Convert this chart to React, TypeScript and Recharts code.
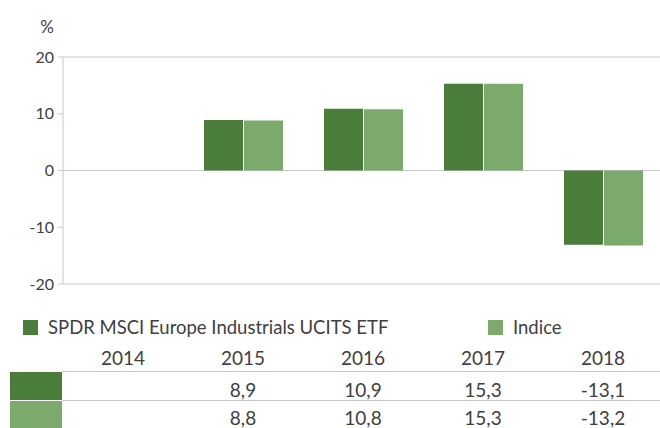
import { Bar, BarChart, CartesianGrid, Customized, Legend, XAxis, YAxis } from "recharts"

const YEARS = ["2014", "2015", "2016", "2017", "2018"]
const FUND = [null, 8.9, 10.9, 15.3, -13.1]
const INDEX = [null, 8.8, 10.8, 15.3, -13.2]
const Y_TICKS = [-20, -10, 0, 10, 20]

const FUND_NAME = "SPDR MSCI Europe Industrials UCITS ETF"
const INDEX_NAME = "Indice"

const DARK = "#4a7c3a"
const LIGHT = "#7baa6c"
const TEXT = "#404040"
const GRID = "#c8c8c8"
const FONT = "Lato, 'Open Sans', sans-serif"

const data = YEARS.map((year, i) => ({ year, fund: FUND[i], index: INDEX[i] }))

const fmt = (v: number | null) => (v == null ? "" : v.toFixed(1).replace(".", ","))

function TableTick(props: any) {
  const { x, payload, index } = props
  const common = { x, textAnchor: "middle" as const, fill: TEXT, fontSize: 19, fontFamily: FONT }
  return (
    <g>
      <text {...common} y={365}>{payload.value}</text>
      <text {...common} y={397}>{fmt(FUND[index])}</text>
      <text {...common} y={425}>{fmt(INDEX[index])}</text>
    </g>
  )
}

function TableFrame() {
  return (
    <g>
      <line x1={62} x2={660} y1={371.5} y2={371.5} stroke={GRID} />
      <line x1={62} x2={660} y1={400.5} y2={400.5} stroke={GRID} />
      <rect x={10} y={372} width={52} height={28} fill={DARK} />
      <rect x={10} y={401} width={52} height={27} fill={LIGHT} />
      <text x={54} y={33} textAnchor="end" fill={TEXT} fontSize={17} fontFamily={FONT}>%</text>
    </g>
  )
}

const LEGEND_LEFT: Record<string, number> = { [FUND_NAME]: 23, [INDEX_NAME]: 488 }

function LegendContent(props: any) {
  const items = props.payload ?? []
  return (
    <div style={{ position: "relative", height: 20, width: 660 }}>
      {items.map((it: any) => (
        <div
          key={it.value}
          style={{
            position: "absolute",
            left: LEGEND_LEFT[it.value] ?? 0,
            top: 0,
            display: "flex",
            alignItems: "center",
            whiteSpace: "nowrap",
          }}
        >
          <span style={{ display: "inline-block", width: 15, height: 15, background: it.color }} />
          <span style={{ marginLeft: 10, fontSize: 18.5, fontFamily: FONT, color: TEXT, lineHeight: "20px" }}>
            {it.value}
          </span>
        </div>
      ))}
    </div>
  )
}

export default function App() {
  return (
    <div style={{ position: "absolute", left: 0, top: 0, background: "#fff" }}>
      <BarChart
        width={660}
        height={428}
        data={data}
        margin={{ top: 57, right: -3, left: 0, bottom: 0 }}
        barCategoryGap={21}
        barGap={1}
      >
        <CartesianGrid vertical={false} horizontalValues={[-20, 0, 20]} stroke={GRID} />
        <YAxis
          width={63}
          domain={[-20, 20]}
          ticks={Y_TICKS}
          interval={0}
          axisLine={{ stroke: GRID }}
          tickLine={{ stroke: GRID }}
          tickSize={5}
          tickMargin={4}
          tick={{ fill: TEXT, fontSize: 16, fontFamily: FONT }}
        />
        <XAxis
          dataKey="year"
          height={144}
          axisLine={false}
          tickLine={false}
          interval={0}
          tick={<TableTick />}
        />
        <Legend
          verticalAlign="middle"
          layout="horizontal"
          content={<LegendContent />}
          wrapperStyle={{ position: "absolute", top: 317, left: 0, width: 660 }}
        />
        <Bar dataKey="fund" name={FUND_NAME} fill={DARK} isAnimationActive={false} />
        <Bar dataKey="index" name={INDEX_NAME} fill={LIGHT} isAnimationActive={false} />
        <Customized component={<TableFrame />} />
      </BarChart>
    </div>
  )
}
